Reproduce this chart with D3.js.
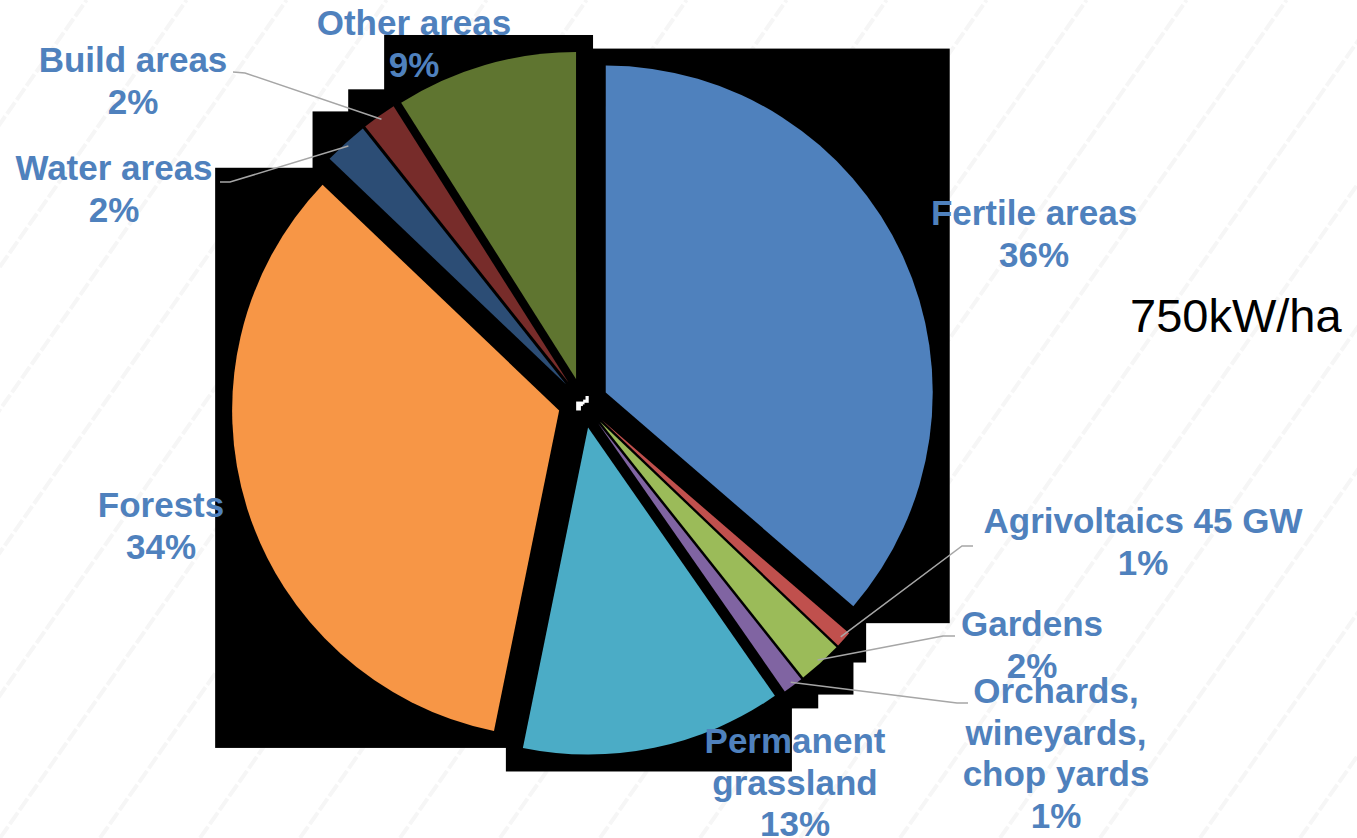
<!DOCTYPE html>
<html>
<head>
<meta charset="utf-8">
<title>Land use pie</title>
<script src="https://d3js.org/d3.v7.min.js"></script>
<style>
  body { margin: 0; background: #ffffff; }
  svg { display: block; }
  .label { font-family: "Liberation Sans", Arial, sans-serif; font-weight: bold; font-size: 35px; fill: #4f81bd; }
  .note { font-family: "Liberation Sans", Arial, sans-serif; font-size: 47px; fill: #000000; }
  .leader { fill: none; stroke: #a6a6a6; stroke-width: 1.5; }
</style>
</head>
<body>
<script>
// Share of land area (percent, clockwise from 12 o'clock)
var categories = ["Fertile areas", "Agrivoltaics 45 GW", "Gardens",
                  "Orchards, wineyards, chop yards", "Permanent grassland",
                  "Forests", "Water areas", "Build areas", "Other areas"];
var shares = [36.4, 0.8, 2.2, 1.0, 12.9, 34.0, 2.2, 1.7, 9.0];
var colors = ["#4f81bd", "#c0504d", "#9bbb59", "#8064a2", "#4bacc6",
              "#f79646", "#2c4d75", "#772c2a", "#5f7530"];
var note = "750kW/ha";

// where each label sits (centre x, first baseline y) and how wide it may get
var labelLayout = [
  {x: 1034, y: 225, wrap: 400},
  {x: 1143, y: 533, wrap: 400},
  {x: 1032, y: 636, wrap: 400},
  {x: 1056, y: 703, wrap: 190},
  {x: 795,  y: 753, wrap: 190},
  {x: 161,  y: 517, wrap: 400},
  {x: 114,  y: 180, wrap: 400},
  {x: 133,  y: 72,  wrap: 400},
  {x: 414,  y: 35,  wrap: 400}
];
// leader lines: start at label, short horizontal elbow, then to the slice
var leaders = {
  1: [[973, 546], [962, 546]],
  2: [[955, 636], [943, 636]],
  3: [[968, 703], [957, 703]],
  6: [[220, 182], [230, 182]],
  7: [[233, 72], [245, 73]]
};

window.onload = function()
{
  var width = 1357,
      height = 838,
      cx = 583,
      cy = 403,
      radius = 327,
      explode = 25,
      shadowPad = 17;

  var svg = d3.select("body").append("svg")
      .attr("width", width)
      .attr("height", height);

  drawBackground(svg, width, height);

  var pie = d3.pie()
      .sort(null)
      .value(function(d) { return d; });

  var arc = d3.arc()
      .innerRadius(0)
      .outerRadius(radius);

  var arcs = pie(shares);

  // offset of each exploded slice
  function shift(d)
  {
    var mid = (d.startAngle + d.endAngle) / 2;
    return [Math.sin(mid) * explode, -Math.cos(mid) * explode];
  }

  var chart = svg.append("g")
      .attr("transform", "translate(" + cx + "," + cy + ")");

  var shadowLayer = chart.append("g").attr("class", "shadows");
  var sliceLayer = chart.append("g").attr("class", "slices");

  var slices = sliceLayer.selectAll(".slice")
      .data(arcs)
    .enter().append("path")
      .attr("class", "slice")
      .attr("d", arc)
      .attr("transform", function(d) { return "translate(" + shift(d) + ")"; })
      .style("fill", function(d, i) { return colors[i]; });

  // the black shadow shows up as the padded bounding box of every slice
  slices.each(function(d) {
    var b = this.getBBox();
    var s = shift(d);
    shadowLayer.append("rect")
        .attr("x", b.x + s[0] - shadowPad)
        .attr("y", b.y + s[1] - shadowPad)
        .attr("width", b.width + 2 * shadowPad)
        .attr("height", b.height + 2 * shadowPad)
        .style("fill", "#000000");
  });

  // leader lines
  Object.keys(leaders).forEach(function(k) {
    var d = arcs[k];
    var s = shift(d);
    var mid = (d.startAngle + d.endAngle) / 2;
    var r = radius - 4;
    var end = [cx + s[0] + Math.sin(mid) * r, cy + s[1] - Math.cos(mid) * r];
    var pts = leaders[k].concat([end]);
    svg.append("path")
        .attr("class", "leader")
        .attr("d", d3.line()(pts));
  });

  // labels: name (wrapped) and rounded percent
  var total = d3.sum(shares);
  arcs.forEach(function(d, i) {
    var lay = labelLayout[i];
    var text = svg.append("text")
        .attr("class", "label")
        .attr("text-anchor", "middle");
    var lines = wrap(text, categories[i], lay.wrap);
    lines.push(Math.round(shares[i] / total * 100) + "%");
    lines.forEach(function(line, j) {
      text.append("tspan")
          .attr("x", lay.x)
          .attr("y", lay.y + j * 41.5)
          .text(line);
    });
  });

  svg.append("text")
      .attr("class", "note")
      .attr("x", 1130)
      .attr("y", 332)
      .text(note);
};

// break a label into lines no wider than maxWidth
function wrap(text, label, maxWidth)
{
  var words = label.split(" ");
  var lines = [];
  var current = "";
  var probe = text.append("tspan");
  words.forEach(function(w) {
    var test = current ? current + " " + w : w;
    probe.text(test);
    if (current && probe.node().getComputedTextLength() > maxWidth)
    {
      lines.push(current);
      current = w;
    }
    else
    {
      current = test;
    }
  });
  lines.push(current);
  probe.remove();
  return lines;
}

// faint diagonal watermark stripes
function drawBackground(svg, width, height)
{
  var g = svg.append("g").attr("class", "watermark");
  for (var x0 = -700; x0 < width + 100; x0 += 100)
  {
    g.append("line")
        .attr("x1", x0)
        .attr("y1", height)
        .attr("x2", x0 + height * 0.7)
        .attr("y2", 0)
        .style("stroke", "#f6f6f6")
        .style("stroke-width", 4)
        .style("stroke-dasharray", "14,3");
  }
}
</script>
</body>
</html>
